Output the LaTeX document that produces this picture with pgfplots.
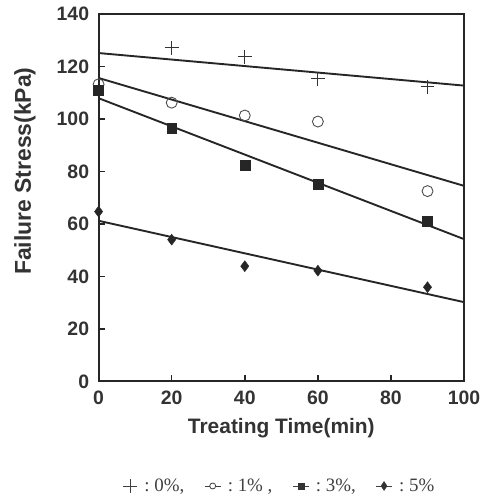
\documentclass[border=0pt]{standalone}
\usepackage{pgfplots}
\pgfplotsset{compat=1.18}
\usepackage{fontspec}
\setmainfont{Liberation Sans}
\newfontfamily\seriffont{Liberation Serif}
\begin{document}
\begin{tikzpicture}
\begin{axis}[
 scale only axis, width=367pt, height=369pt,
 xmin=0, xmax=100, ymin=0, ymax=140,
 xtick={0,20,...,100}, ytick={0,20,...,140},
 tick align=inside, major tick length=6pt,
 xtick pos=bottom, ytick pos=left,
 axis line style={line width=1.9pt, color=black!85},
 tick style={line width=1.5pt, color=black!85},
 ticklabel style={font=\fontsize{19.5}{20}\selectfont\bfseries, text=black!80},
 xticklabel style={yshift=-6pt},
 yticklabel style={xshift=-6pt},
 /pgf/number format/assume math mode=true,
 xlabel={Treating Time(min)}, ylabel={Failure Stress(kPa)},
 xlabel style={font=\fontsize{21}{22}\selectfont\bfseries, text=black!80,
   at={(axis description cs:0.5,0)}, anchor=center, yshift=-47pt},
 ylabel style={font=\fontsize{23}{24}\selectfont\bfseries, text=black!80,
   at={(axis description cs:0,0.572)}, anchor=center, yshift=74pt},
 legend columns=4,
 legend style={at={(axis description cs:0.4955,0)}, anchor=center, yshift=-105pt, draw=none, fill=none,
   font=\seriffont\fontsize{19}{20}\selectfont, text=black!75,
   /tikz/every even column/.append style={column sep=18pt}},
 clip=false,
]
% fitted lines
\addplot[black!85, line width=1.9pt, forget plot] coordinates {(0,125.1) (100,112.7)};
\addplot[black!85, line width=1.9pt, forget plot] coordinates {(0,115.6) (100,74.5)};
\addplot[black!85, line width=1.9pt, forget plot] coordinates {(0,107.9) (100,54.2)};
\addplot[black!85, line width=1.9pt, forget plot] coordinates {(0,61.2) (100,30.2)};
% data
\addplot[only marks, mark=+, mark size=7pt, black!80, line width=0.9pt, forget plot] coordinates {(20,127.1) (40,123.7) (60,115.3) (90,112.3)};
\addplot[only marks, mark=o, mark size=5.5pt, black!70, line width=0.9pt, forget plot] coordinates {(0,113.2) (20,106.2) (40,101.3) (60,99.0) (90,72.5)};
\addplot[only marks, mark=square*, mark size=5pt, black!85, forget plot] coordinates {(0,110.9) (20,96.5) (40,82.4) (60,75.1) (90,61.2)};
\addplot[only marks, mark=diamond*, mark size=5.5pt, black!85, forget plot] coordinates {(0,64.7) (20,54.0) (40,43.9) (60,42.2) (90,35.9)};
% legend
\addlegendimage{legend image code/.code={\draw[black!75, line width=0.8pt] (2pt,0pt) -- (16pt,0pt) (9pt,-7pt) -- (9pt,7pt);}}
\addlegendentry{\ :\ 0\%,}
\addlegendimage{legend image code/.code={\draw[black!75, line width=0.8pt] (0pt,0pt) -- (5pt,0pt) (11pt,0pt) -- (16pt,0pt); \draw[black!75, line width=0.8pt] (8pt,0pt) circle (3pt);}}
\addlegendentry{\ :\ 1\%\ ,}
\addlegendimage{legend image code/.code={\draw[black!75, line width=0.8pt] (0pt,0pt) -- (16pt,0pt); \fill[black!80] (5pt,-3pt) rectangle (11pt,3pt);}}
\addlegendentry{\ :\ 3\%,}
\addlegendimage{legend image code/.code={\draw[black!75, line width=0.8pt] (0pt,0pt) -- (16pt,0pt); \fill[black!80] (8pt,-4.5pt) -- (11pt,0pt) -- (8pt,4.5pt) -- (5pt,0pt) -- cycle;}}
\addlegendentry{\ :\ 5\%}
\end{axis}
\path[use as bounding box] (current axis.south west) ++(-99pt,-114pt) rectangle ++(493pt,497pt);
\end{tikzpicture}
\end{document}
